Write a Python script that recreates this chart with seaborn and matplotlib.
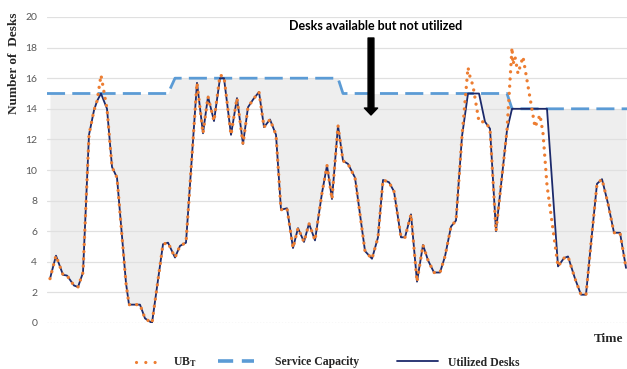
import matplotlib
matplotlib.use('Agg')
import matplotlib.pyplot as plt
from matplotlib.lines import Line2D
import numpy as np
import seaborn as sns

# time axis (arbitrary units, no ticks on the chart)
t = [0, 6, 13, 17, 24, 28, 33, 39, 44, 47, 51, 57, 62, 67, 76, 79, 90, 95, 102,
     113, 118, 125, 130, 136, 147, 153, 158, 164, 170, 174, 181, 187, 193, 198,
     203, 209, 214, 220, 226, 231, 237, 243, 248, 254, 259, 265, 272, 277, 282,
     288, 293, 298, 305, 315, 322, 328, 333, 339, 344, 351, 355, 361, 367, 373,
     378, 384, 390, 395, 401, 406, 412, 418, 420, 423, 429, 435, 440, 446, 457,
     462, 463, 465, 468, 473, 485, 490, 493, 497, 508, 514, 518, 525, 531, 536,
     541, 547, 552, 558, 564, 570, 576]

# upper bound of demand (UB_T)
ub = [2.9, 4.4, 3.15, 3.1, 2.45, 2.35, 3.3, 12.3, 13.9, 14.5, 16.2, 14.0, 10.2,
      9.5, 2.6, 1.2, 1.2, 0.3, 0.0, 5.15, 5.25, 4.28, 5.04, 5.25, 15.7, 12.4,
      14.8, 13.2, 16.2, 16.1, 12.3, 14.7, 11.7, 14.1, 14.6, 15.1, 12.8, 13.3,
      12.3, 7.4, 7.5, 4.9, 6.2, 5.3, 6.5, 5.4, 8.5, 10.3, 8.1, 12.9, 10.6, 10.4,
      9.5, 4.7, 4.2, 5.6, 9.35, 9.2, 8.6, 5.6, 5.6, 7.1, 2.7, 5.1, 4.1, 3.3, 3.3,
      4.35, 6.3, 6.7, 12.2, 16.7, 16.1, 15.5, 13.15, 13.15, 12.7, 6.0, 12.6,
      18.0, 16.9, 17.4, 16.3, 17.4, 12.8, 13.6, 12.4, 9.0, 3.7, 4.24, 4.35, 2.9,
      1.85, 1.85, 5.2, 9.1, 9.4, 7.8, 5.9, 5.9, 3.6]

# desks actually utilized
utilized = [2.9, 4.4, 3.15, 3.1, 2.45, 2.35, 3.3, 12.3, 13.9, 14.5, 15.0, 14.0,
            10.2, 9.5, 2.6, 1.2, 1.2, 0.3, 0.0, 5.15, 5.25, 4.28, 5.04, 5.25,
            15.7, 12.4, 14.8, 13.2, 16.0, 16.0, 12.3, 14.7, 11.7, 14.1, 14.6,
            15.1, 12.8, 13.3, 12.3, 7.4, 7.5, 4.9, 6.2, 5.3, 6.5, 5.4, 8.5, 10.3,
            8.1, 12.9, 10.6, 10.4, 9.5, 4.7, 4.2, 5.6, 9.35, 9.2, 8.6, 5.6, 5.6,
            7.1, 2.7, 5.1, 4.1, 3.3, 3.3, 4.35, 6.3, 6.7, 12.2, 15.0, 15.0, 15.0,
            15.0, 13.15, 12.7, 6.0, 12.6, 14.0, 14.0, 14.0, 14.0, 14.0, 14.0,
            14.0, 14.0, 14.0, 3.7, 4.24, 4.35, 2.9, 1.85, 1.85, 5.2, 9.1, 9.4,
            7.8, 5.9, 5.9, 3.6]

# service capacity (step changes)
cap_t = [-3, 118, 125, 288, 293, 457, 462, 577]
capacity = [15, 15, 16, 16, 15, 15, 14, 14]

sns.set_theme(style='white')
plt.rcParams['font.family'] = ['Liberation Serif', 'DejaVu Serif']
plt.rcParams['mathtext.fontset'] = 'stix'

orange = '#ED7D31'
blue = '#5B9BD5'
navy = '#1C2A6B'

fig = plt.figure(figsize=(6.27, 3.69), dpi=100)
ax = fig.add_axes([47 / 627, 46 / 369, 580 / 627, 306 / 369])

# gray area = desks available but not utilized
cap_on_t = np.interp(t, cap_t, capacity)
ax.fill_between(t, utilized, cap_on_t, color='#eeeeee', lw=0, zorder=0)

for v in range(2, 21, 2):
    ax.axhline(v, color='#e0e0e0', lw=0.9, zorder=1)
ax.axhline(0, color='#c8c8c8', lw=0.9, ls=(0, (1, 1.5)), zorder=1)

ax.plot(cap_t, capacity, color=blue, lw=2.0, ls=(0, (6.5, 2.6)), zorder=2)
sns.lineplot(x=t, y=utilized, color=navy, lw=1.3, ax=ax, zorder=3)
sns.lineplot(x=t, y=ub, color=orange, lw=2.4, ax=ax, zorder=4)
ub_line = ax.lines[-1]
ub_line.set_linestyle((0, (0.01, 2.15)))
ub_line.set_dash_capstyle('round')

ax.set_xlim(-3, 577)
ax.set_ylim(0, 20)
ax.set_xticks([])
ax.set_yticks(range(0, 21, 2))
ax.set_yticklabels([str(v) for v in range(0, 21, 2)], family='Lato',
                   fontsize=7.5, color='#595959')
ax.tick_params(axis='y', length=0, pad=7)
ax.set_xlabel('')
ax.set_ylabel('')
for s in ax.spines.values():
    s.set_visible(False)

fig.text(14 / 627, 1 - 63 / 369, 'Number of  Desks', rotation=90,
         ha='center', va='center', fontsize=9.5, fontweight='bold')
fig.text(609 / 627, 1 - 339 / 369, 'Time', ha='center', va='center',
         fontsize=9.5, fontweight='bold')

fig.text(376 / 627, 1 - 26 / 369, 'Desks available but not utilized',
         ha='center', va='center', family='Lato', fontsize=9,
         fontweight='bold', color='black')
ax.annotate('', xy=(371, 369 - 115), xycoords='figure pixels',
            xytext=(371, 369 - 38), textcoords='figure pixels',
            arrowprops=dict(arrowstyle='simple,head_length=0.5,head_width=0.95,tail_width=0.42',
                            color='black', mutation_scale=10,
                            shrinkA=0, shrinkB=0))

# legend: three single-entry legends placed like the original
ub_h = Line2D([], [], color=orange, lw=2.3, ls=(0, (0.01, 2.9)))
ub_h.set_dash_capstyle('round')
entries = [
    (ub_h, r'UB$_{\mathbf{T}}$', 136, 1.95, 1.2),
    (Line2D([], [], color=blue, lw=2.6, ls=(0, (4.2, 2.4))), 'Service Capacity', 218, 3.05, 1.8),
    (Line2D([], [], color=navy, lw=1.3), 'Utilized Desks', 397, 3.5, 0.85),
]
for h, lab, x0, hl, pad in entries:
    fig.legend([h], [lab], loc='center left', bbox_to_anchor=(x0 / 627, 6.5 / 369),
               frameon=False, handlelength=hl, handletextpad=pad,
               borderpad=0, borderaxespad=0,
               prop={'weight': 'bold', 'size': 8.5})

fig.savefig('out.png', dpi=100)
